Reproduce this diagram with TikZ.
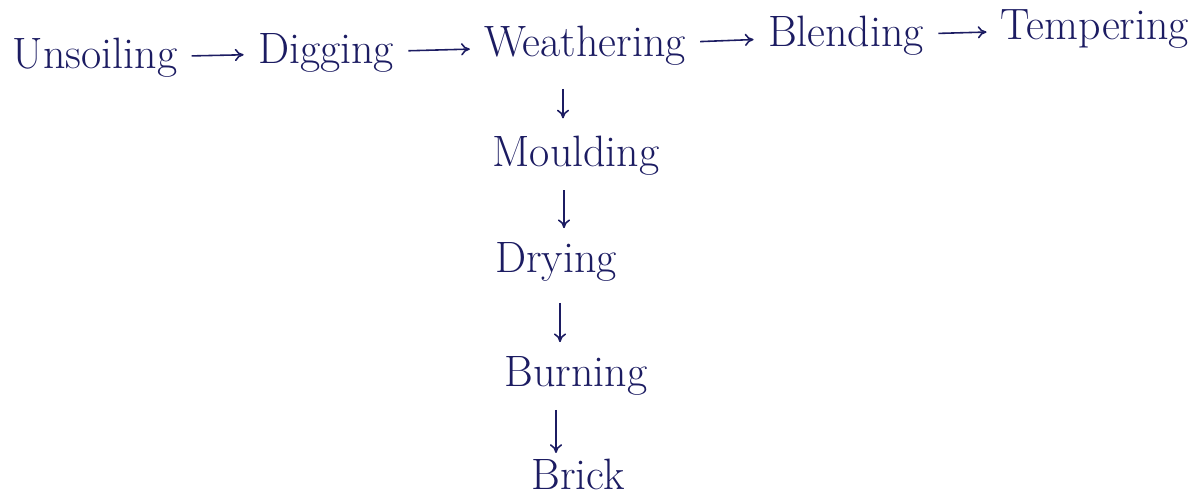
\documentclass[tikz,border=0pt]{standalone}
\usetikzlibrary{arrows.meta}

\definecolor{ink}{RGB}{28,28,98}

\tikzset{
  stage/.style={text=ink, inner sep=0pt, font=\fontsize{25}{29}\selectfont},
  flow/.style={draw=ink, line width=0.9pt, -{To[length=5pt,width=7pt]}, shorten >=8pt, shorten <=8pt}
}

\begin{document}
\begin{tikzpicture}[x=0.02cm,y=-0.02cm]
    \useasboundingbox (0,0) rectangle (1200,497);

    % top row
    \node[stage] (unsoil)  at (95,58)   {Unsoiling};
    \node[stage] (dig)     at (326,53)  {Digging};
    \node[stage] (weather) at (585,46)  {Weathering};
    \node[stage] (blend)   at (846,36)  {Blending};
    \node[stage] (temper)  at (1095,29) {Tempering};

    % column
    \node[stage] (mould) at (576,156) {Moulding};
    \node[stage] (dry)   at (556,262) {Drying};
    \node[stage] (burn)  at (576,376) {Burning};
    \node[stage] (brick) at (578,474) {Brick};

    \draw[flow] (unsoil) -- (dig);
    \draw[flow] (dig) -- (weather);
    \draw[flow] (weather) -- (blend);
    \draw[flow] (blend) -- (temper);

    \draw[flow, shorten <=13pt, shorten >=10pt] (weather.south -| 563,0) -- (mould.north -| 563,0);
    \draw[flow] (mould.south -| 564,0) -- (dry.north -| 564,0);
    \draw[flow, shorten <=12pt] (dry.south -| 560,0) -- (burn.north -| 560,0);
    \draw[flow, shorten >=3pt] (burn.south -| 556,0) -- (brick.north -| 556,0);
\end{tikzpicture}
\end{document}
